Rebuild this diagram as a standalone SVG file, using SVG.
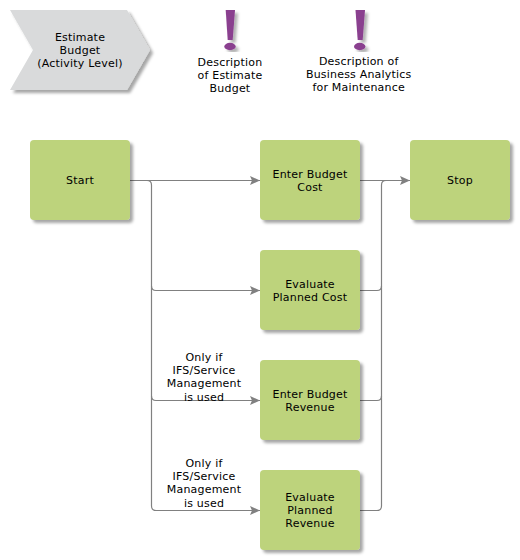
<svg xmlns="http://www.w3.org/2000/svg" width="520" height="560" viewBox="0 0 520 560">
<style>
text{font-family:"DejaVu Sans",sans-serif;font-size:11px;fill:#000;text-anchor:middle;letter-spacing:.2px}
.a{fill:#bdd37c;filter:url(#s)}
.c{fill:none;stroke:#808080;stroke-width:1.2}
.m{fill:#8a3f8f;filter:url(#s2)}
</style>
<defs>
<filter id="s" x="-10%" y="-10%" width="125%" height="125%"><feDropShadow dx="3" dy="3" stdDeviation="1.5" flood-color="#000" flood-opacity=".35"/></filter>
<filter id="s2" x="-50%" y="-10%" width="220%" height="130%"><feDropShadow dx="3" dy="3" stdDeviation="1.5" flood-color="#000" flood-opacity=".3"/></filter>
<marker id="ar" markerUnits="userSpaceOnUse" markerWidth="11" markerHeight="9" refX="10" refY="4.500" orient="auto"><path d="M0 0L10 4.500L0 9L2 4.500Z" fill="#808080"/></marker>
</defs>
<g id="connectors">
<path class="c" marker-end="url(#ar)" d="M130 180.500H260"/>
<path class="c" marker-end="url(#ar)" d="M147 180.500Q151.500 180.500 151.500 185V286Q151.500 290.500 156 290.500H260"/>
<path class="c" marker-end="url(#ar)" d="M151.500 286V396Q151.500 400.500 156 400.500H260"/>
<path class="c" marker-end="url(#ar)" d="M151.500 396V506Q151.500 510.500 156 510.500H260"/>
<path class="c" marker-end="url(#ar)" d="M360 180.500H410"/>
<path class="c" d="M360 290.500H377Q381.500 290.500 381.500 286V185Q381.500 180.500 386 180.500H395"/>
<path class="c" d="M360 400.500H377Q381.500 400.500 381.500 396V286"/>
<path class="c" d="M360 510.500H377Q381.500 510.500 381.500 506V396"/>
</g>
<g id="label1"><text x="204" y="361">Only if</text><text x="204" y="374">IFS/Service</text><text x="204" y="387">Management</text><text x="204" y="401">is used</text></g>
<g id="label2"><text x="204" y="467">Only if</text><text x="204" y="480">IFS/Service</text><text x="204" y="493">Management</text><text x="204" y="507">is used</text></g>
<g id="estimate"><path d="M10 10H127L150 50L127 90H10L33 50Z" fill="#d9dadb" filter="url(#s)"/><text x="80" y="41">Estimate</text><text x="80" y="54">Budget</text><text x="80" y="67">(Activity Level)</text></g>
<g id="desc1"><path class="m" d="M225.700 10H235L232.700 40H227.700Z"/><ellipse class="m" cx="230" cy="46.500" rx="5.700" ry="3.700"/><text x="230" y="66">Description</text><text x="230" y="79">of Estimate</text><text x="230" y="92">Budget</text></g>
<g id="desc2"><path class="m" d="M355.500 10H365L362.700 40H357.700Z"/><ellipse class="m" cx="359.700" cy="46.500" rx="5.700" ry="3.700"/><text x="358.700" y="65">Description of</text><text x="358.700" y="78">Business Analytics</text><text x="358.700" y="91">for Maintenance</text></g>
<g id="start"><rect class="a" x="30" y="140" width="100" height="80" rx="4"/><text x="80" y="184">Start</text></g>
<g id="enter-cost"><rect class="a" x="260" y="140" width="100" height="80" rx="4"/><text x="310" y="178">Enter Budget</text><text x="310" y="191">Cost</text></g>
<g id="stop"><rect class="a" x="410" y="140" width="100" height="80" rx="4"/><text x="460" y="184">Stop</text></g>
<g id="eval-cost"><rect class="a" x="260" y="250" width="100" height="80" rx="4"/><text x="310" y="288">Evaluate</text><text x="310" y="301">Planned Cost</text></g>
<g id="enter-rev"><rect class="a" x="260" y="360" width="100" height="80" rx="4"/><text x="310" y="398">Enter Budget</text><text x="310" y="411">Revenue</text></g>
<g id="eval-rev"><rect class="a" x="260" y="470" width="100" height="80" rx="4"/><text x="310" y="501">Evaluate</text><text x="310" y="514">Planned</text><text x="310" y="527">Revenue</text></g>
</svg>
